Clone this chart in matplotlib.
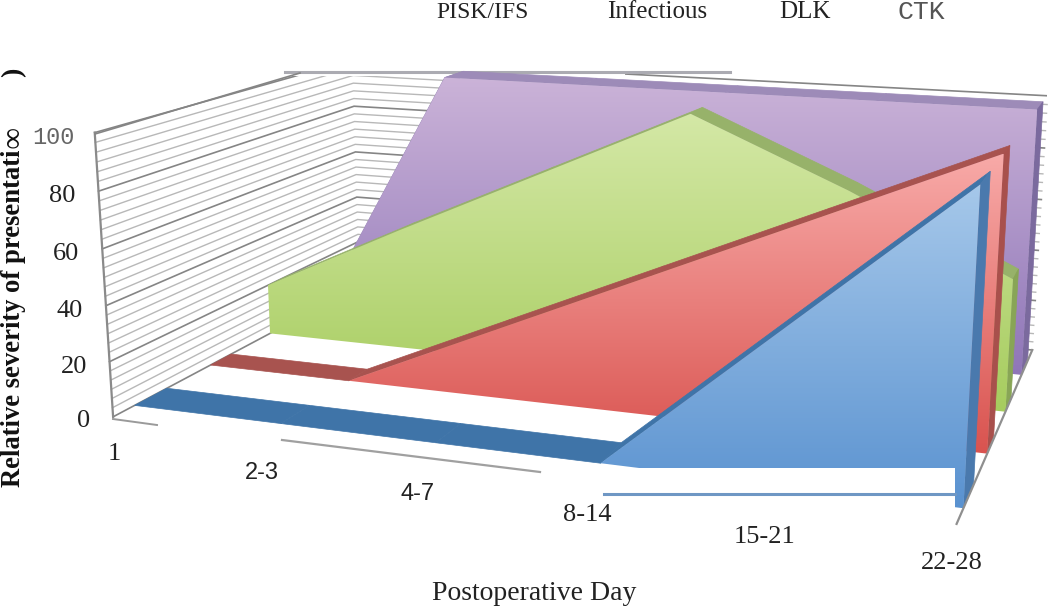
import numpy as np
import matplotlib
matplotlib.use("Agg")
import matplotlib.pyplot as plt
from matplotlib.colors import LinearSegmentedColormap
from matplotlib.patches import Polygon

categories = ["1", "2-3", "4-7", "8-14", "15-21", "22-28"]
ctk = [0, 0, 0, 0, 50, 100]
dlk = [0, 0, 25, 50, 75, 100]
infectious = [20, 47, 73, 99, 75, 48]
pisk_ifs = [0, 100, 100, 100, 100, 100]
y_ticks = [0, 20, 40, 60, 80, 100]

# camera calibration: (category fraction, depth, value) -> pixel
cal_world = [(0,0,0),(0,0,100),(0,1,0),(0,1,100),(1,0,0),(1,0,100),(1,1,0),(1,1,100)]
cal_px = [(113,419),(95,134),(360,283),(352,60),(955,523),(975,190),(1033,352),(1047,97)]
A = []
b = []
for (X,D,V),(u,w) in zip(cal_world, cal_px):
    V2 = V/100
    A.append([X,D,V2,1,0,0,0,0,-u*X,-u*D,-u*V2]); b.append(u)
    A.append([0,0,0,0,X,D,V2,1,-w*X,-w*D,-w*V2]); b.append(w)
h = np.linalg.lstsq(np.array(A,float), np.array(b,float), rcond=None)[0]
M = np.append(h,1).reshape(3,4)
def project(x,d,v):
    q = M @ np.array([x,d,v/100,1.0])
    return (q[0]/q[2], q[1]/q[2])

fig = plt.figure(figsize=(10.5,6.09), dpi=100)
ax = fig.add_axes([0,0,1,1])
ax.set_xlim(0,1050); ax.set_ylim(609,0); ax.axis("off")

z = [1]
def nz():
    z[0] += 1
    return z[0]
def poly(pts, color, **kw):
    ax.add_patch(Polygon(pts, closed=True, facecolor=color, edgecolor=color, linewidth=0.5, zorder=nz(), **kw))

# walls' gridlines
for val in np.linspace(0,100,31):
    major = abs(val/20-round(val/20))<1e-6
    col = "#858585" if major else "#b8b8b8"
    lw = 1.2 if major else 1.0
    pts = [project(0,0,val), project(0,1,val), project(1,1,val)]
    ax.plot(*zip(*pts), color=col, lw=lw, zorder=nz(), solid_joinstyle="miter")
ax.plot(*zip(project(0,0,0),project(0,0,100)), color="#8a8a8a", lw=1.6, zorder=nz())

# scan mask above back wall, and the grey rule
ax.add_patch(Polygon([(290,40),(625,40),(625,75.5),(290,75.5)], facecolor="white", edgecolor="none", zorder=nz()))
ax.add_patch(Polygon([(1047,40),(1050,40),(1050,96.5),(1047,96.5)], facecolor="white", edgecolor="none", zorder=nz()))
ax.plot([285,730],[72,72], color="#ababb2", lw=2.2, zorder=nz())
ax.plot([95,300],[134,73], color="#858585", lw=1.2, zorder=nz())

xs = np.linspace(0,1,len(categories))
def area(vals, df, db, c_top, c_bot, band, side):
    top_f = [project(x,df,v) for x,v in zip(xs,vals)]
    # top surfaces
    for i in range(len(xs)-1):
        poly([project(xs[i],df,vals[i]),project(xs[i+1],df,vals[i+1]),
              project(xs[i+1],db,vals[i+1]),project(xs[i],db,vals[i])], band)
    # right end
    poly([project(1,df,0),project(1,db,0),project(1,db,vals[-1]),project(1,df,vals[-1])], side)
    # front face, gradient
    outline = top_f + [project(1,df,0), project(0,df,0)]
    p = Polygon(outline, closed=True, transform=ax.transData, facecolor="none", edgecolor="none")
    ax.add_patch(p)
    ys = [q[1] for q in outline]; xx = [q[0] for q in outline]
    cmap = LinearSegmentedColormap.from_list("g",[c_top,c_bot])
    im = ax.imshow(np.linspace(0,1,256)[:,None], cmap=cmap, aspect="auto",
                   extent=[min(xx),max(xx),max(ys),min(ys)], zorder=nz(), interpolation="bilinear")
    im.set_clip_path(p)

area(pisk_ifs, .82, .92, "#cbb3d8", "#8f76b8", "#9d8bb8", "#7b6a9e")
area(infectious, .58, .66, "#d4e8a6", "#a6cc5e", "#97b26a", "#88a556")
area(dlk, .34, .42, "#f8aaa8", "#d9534f", "#a8534f", "#a8504c")
area(ctk, .07, .18, "#a6c8ea", "#5a92d0", "#3f74a8", "#4a79ad")

ax.set_xlim(0,1050); ax.set_ylim(609,0)

# scan artefacts at the blue front face and fragments of the floor edge
ax.add_patch(Polygon([(632,468),(955,468),(955,520),(600,520),(600,480),(632,480)], facecolor="white", edgecolor="none", zorder=nz()))
ax.plot([604,955],[493.5,493.5], color="#6f97c4", lw=2.2, zorder=nz())
ax.plot([113,157],[419,425], color="#9a9a9a", lw=1.4, zorder=nz())
ax.plot([282,540],[440,472], color="#a0a0a0", lw=1.6, zorder=nz())
ax.plot(*zip(project(1,0,0),project(1,1,0)), color="#8f8f8f", lw=1.6, zorder=nz())

S = "Liberation Serif"
def t(x,y,s,fam=S,size=15,**kw):
    kw.setdefault("ha","center"); kw.setdefault("va","center")
    ax.text(x,y,s,family=fam,fontsize=size,zorder=nz(),color=kw.pop("color","#222222"),**kw)

# legend
t(483,12,"PISK/IFS",size=17)
t(657,12,"Infectious",size=18)
t(805,12,"DLK",size=18)
t(921,12,"CTK",fam="Liberation Mono",size=19,color="#555555")

# y ticks
ytick_pos = [(90,421),(87,367),(83,311),(79,254),(75,196),(75,137)]
for v,(x,y) in zip(y_ticks,ytick_pos):
    if v==100:
        t(x,y,str(v),fam="Liberation Mono",size=17,ha="right",color="#666666")
    else:
        t(x,y,str(v),size=19,ha="right")

# x ticks
xtick_pos = [(114,454),(262,473),(418,494),(587,515),(765,537),(952,563)]
xtick_fam = [S,"Liberation Sans","Liberation Sans",S,S,S]
for lab,(x,y),f in zip(categories,xtick_pos,xtick_fam):
    t(x,y,lab,fam=f,size=19 if f==S else 17)

t(534,594,"Postoperative Day",size=20)
t(13,487,"Relative severity of presentati",size=19.2,rotation=90,weight="bold",color="#111111",va="center",rotation_mode="anchor",ha="left")
t(14,137,"\u221e",size=22,rotation=90,style="italic",weight="bold",color="#111111")
t(14,72,")",size=20,rotation=90,weight="bold",color="#111111")

fig.savefig("out.png", dpi=100)
